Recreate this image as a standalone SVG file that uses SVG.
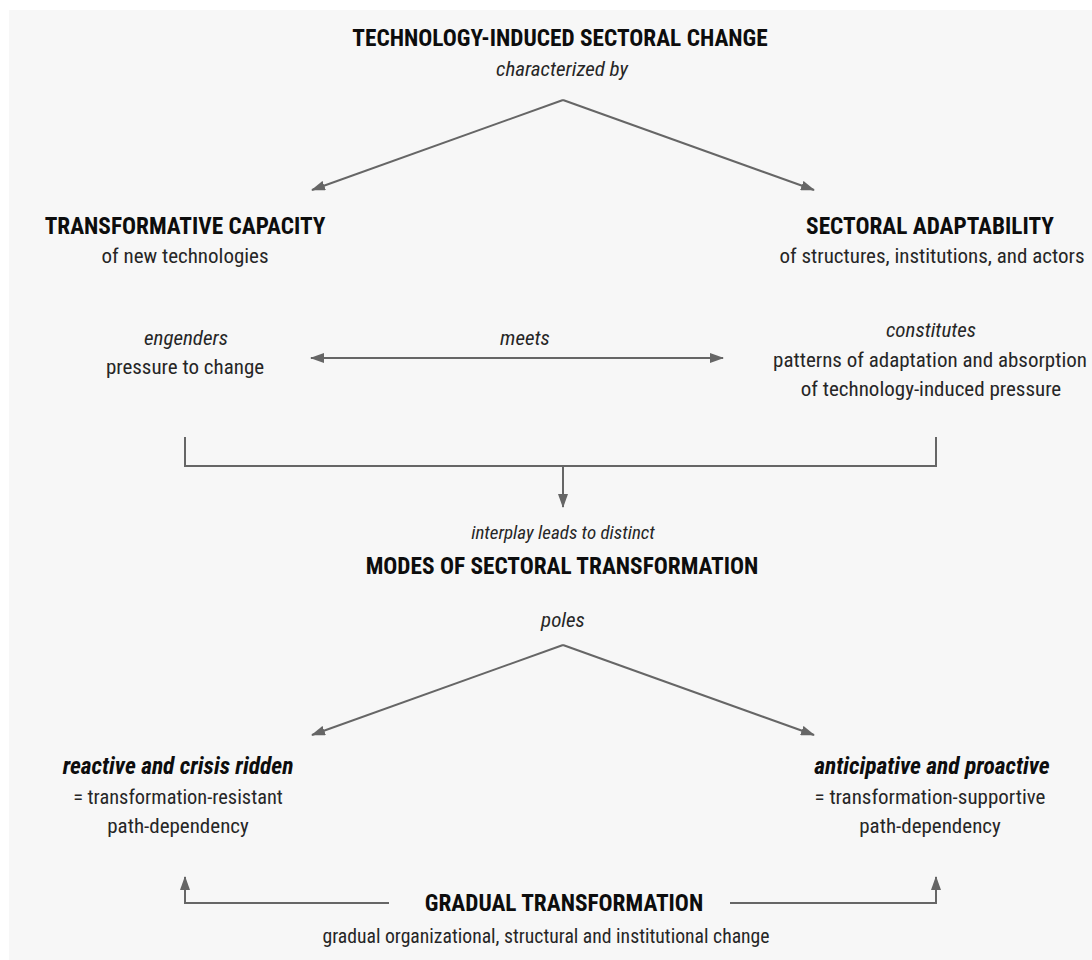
<svg xmlns="http://www.w3.org/2000/svg" width="1092" height="960" viewBox="0 0 1092 960">
<style>
text{font-family:"Liberation Sans Narrow","Roboto Condensed","DejaVu Sans Condensed","Liberation Sans",sans-serif;text-anchor:middle;fill:#262626;font-size:21px}
.h{font-weight:bold;font-size:23.3px;fill:#0d0d0d}
.i{font-style:italic}
.bi{font-weight:bold;font-style:italic;font-size:23.5px;fill:#0d0d0d}
.c{fill:none;stroke:#666;stroke-width:2}
</style>
<defs>
<marker id="a" viewBox="0 0 14 10" refX="13" refY="5" markerWidth="14" markerHeight="10" orient="auto-start-reverse" markerUnits="userSpaceOnUse">
<path d="M0,0 L14,5 L0,10 z" fill="#666"/>
</marker>
</defs>
<rect x="9" y="10" width="1083" height="950" fill="#f7f7f7"/>
<g id="connectors">
<path class="c" d="M563,100 L312,190" marker-end="url(#a)"/>
<path class="c" d="M563,100 L814,190" marker-end="url(#a)"/>
<path class="c" d="M311,358 L723,358" marker-start="url(#a)" marker-end="url(#a)"/>
<path class="c" d="M185,437 V466 H936 V437"/>
<path class="c" d="M563,466 V507" marker-end="url(#a)"/>
<path class="c" d="M563,645 L312,735" marker-end="url(#a)"/>
<path class="c" d="M563,645 L814,735" marker-end="url(#a)"/>
<path class="c" d="M389,903 H185 V877" marker-end="url(#a)"/>
<path class="c" d="M730,903 H936 V877" marker-end="url(#a)"/>
</g>
<g id="top">
<text class="h" x="560" y="46">TECHNOLOGY-INDUCED SECTORAL CHANGE</text>
<text class="i" x="562" y="76">characterized by</text>
</g>
<g id="capacity">
<text class="h" x="185" y="234">TRANSFORMATIVE CAPACITY</text>
<text x="185" y="263">of new technologies</text>
<text class="i" x="186" y="345">engenders</text>
<text x="185" y="374">pressure to change</text>
</g>
<g id="meets">
<text class="i" x="525" y="345">meets</text>
</g>
<g id="adaptability">
<text class="h" x="930" y="234">SECTORAL ADAPTABILITY</text>
<text x="932" y="263">of structures, institutions, and actors</text>
<text class="i" x="931" y="337">constitutes</text>
<text x="930" y="367">patterns of adaptation and absorption</text>
<text x="931" y="396">of technology-induced pressure</text>
</g>
<g id="modes">
<text class="i" x="563" y="539" style="font-size:19px">interplay leads to distinct</text>
<text class="h" x="562" y="574">MODES OF SECTORAL TRANSFORMATION</text>
<text class="i" x="563" y="627">poles</text>
</g>
<g id="reactive">
<text class="bi" x="178" y="774">reactive and crisis ridden</text>
<text x="178" y="804" style="font-size:20.4px">= transformation-resistant</text>
<text x="178" y="833">path-dependency</text>
</g>
<g id="anticipative">
<text class="bi" x="932" y="774">anticipative and proactive</text>
<text x="930" y="804">= transformation-supportive</text>
<text x="930" y="833">path-dependency</text>
</g>
<g id="gradual">
<text class="h" x="564" y="911">GRADUAL TRANSFORMATION</text>
<text x="546" y="943" style="font-size:19.7px">gradual organizational, structural and institutional change</text>
</g>
</svg>
